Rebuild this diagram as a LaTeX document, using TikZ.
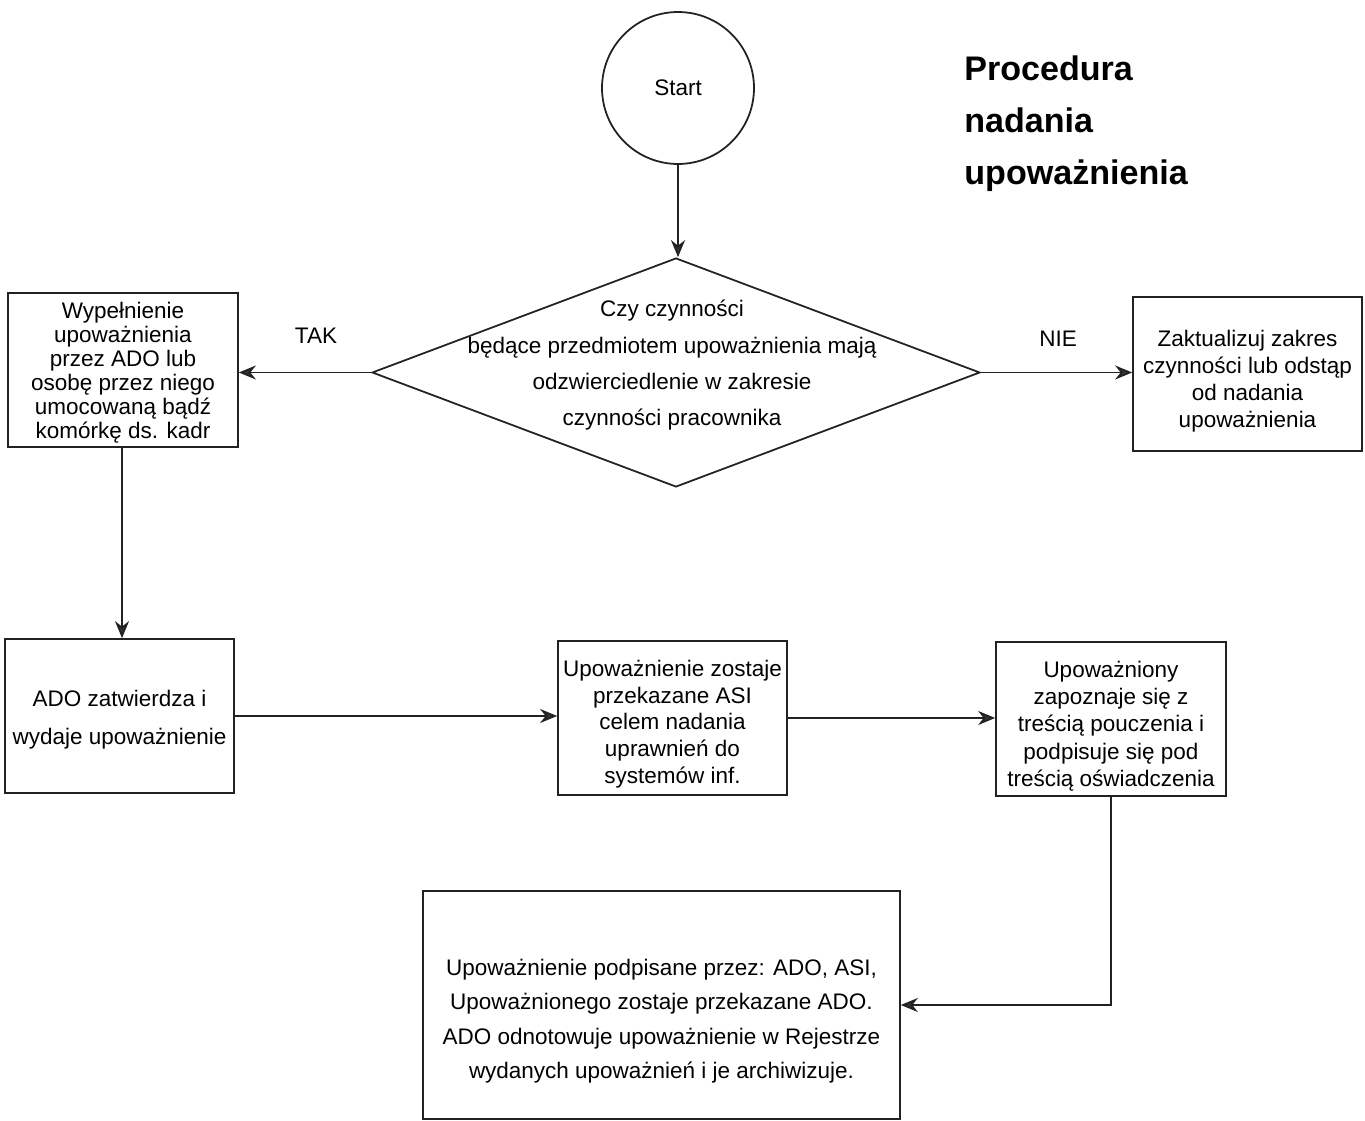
\documentclass[tikz,border=0pt]{standalone}
\usepackage{fontspec}
\setmainfont{Liberation Sans}
\usetikzlibrary{shapes.geometric,arrows.meta}
\definecolor{ink}{HTML}{222222}
\definecolor{tip}{HTML}{333333}
\newcommand{\tsh}[1]{\rule{0pt}{#1}}
\tikzset{
  flowbox/.style={draw=ink, line width=1pt, rectangle, inner sep=0pt, align=center, text=black,
    minimum width=4.58cm, minimum height=3.08cm},
  boxfont/.style={font=\fontsize{12.8}{#1}\selectfont},
  conn/.style={draw=ink, line width=1pt, -{Stealth[length=0.34cm,width=0.28cm,fill=tip]}},
  plainlabel/.style={inner sep=0pt, font=\fontsize{12.8}{15}\selectfont}
}
\begin{document}
\begin{tikzpicture}[x=0.02cm,y=-0.02cm]
\useasboundingbox[fill=white] (0,0) rectangle (1365,1121);
% start
\node[draw=ink, line width=1pt, circle, minimum size=3.04cm, inner sep=0pt, plainlabel] (start) at (678,88) {Start};
% title
\node[anchor=west, inner sep=0pt, align=left, font=\fontsize{19.4}{29.6}\selectfont\bfseries] (title) at (964,124)
  {Procedura\\nadania\\upoważnienia};
% decision
\node[draw=ink, line width=1pt, diamond, minimum width=12.16cm, minimum height=4.58cm, inner sep=0pt] (dec) at (676,372.5) {};
\node[inner sep=0pt, align=center, boxfont=20.7] (dectext) at (672,365.5)
  {Czy czynności\\będące przedmiotem upoważnienia mają\\odzwierciedlenie w zakresie\\czynności pracownika};
% boxes
\node[flowbox, minimum width=4.6cm, boxfont=13.6] (fill) at (123,370)
  {\tsh{12.3pt}Wypełnienie\\upoważnienia\\przez ADO lub\\osobę przez niego\\umocowaną bądź\\komórkę ds. kadr};
\node[flowbox, boxfont=15.4] (nie) at (1247.5,374)
  {\tsh{17.4pt}Zaktualizuj zakres\\czynności lub odstąp\\od nadania\\upoważnienia};
\node[flowbox, boxfont=21.6] (ado) at (119.5,716)
  {\tsh{14pt}ADO zatwierdza i\\wydaje upoważnienie};
\node[flowbox, boxfont=15.2] (asi) at (672.5,718)
  {\tsh{16.2pt}Upoważnienie zostaje\\przekazane ASI\\celem nadania\\uprawnień do\\systemów inf.};
\node[flowbox, minimum width=4.6cm, boxfont=15.4] (upo) at (1111,719)
  {\tsh{17.4pt}Upoważniony\\zapoznaje się z\\treścią pouczenia i\\podpisuje się pod\\treścią oświadczenia};
\node[flowbox, minimum width=9.54cm, minimum height=4.56cm, boxfont=19.4] (fin) at (661.5,1005)
  {\tsh{27.7pt}Upoważnienie podpisane przez: ADO, ASI,\\Upoważnionego zostaje przekazane ADO.\\ADO odnotowuje upoważnienie w Rejestrze\\wydanych upoważnień i je archiwizuje.};
% labels
\node[plainlabel] (tak) at (316,336) {TAK};
\node[plainlabel] (nielab) at (1058,339) {NIE};
% connectors
\draw[conn] (start.south) -- (start.south |- dec.north);
\draw[conn] (dec.west) -- (dec.west -| fill.east);
\draw[conn] (dec.east) -- (dec.east -| nie.west);
\draw[conn] (fill.south -| 122,0) -- (ado.north -| 122,0);
\draw[conn] (ado.east) -- (ado.east -| asi.west);
\draw[conn] (asi.east) -- (asi.east -| upo.west);
\draw[conn] (upo.south) |- (fin.east);
\end{tikzpicture}
\end{document}
